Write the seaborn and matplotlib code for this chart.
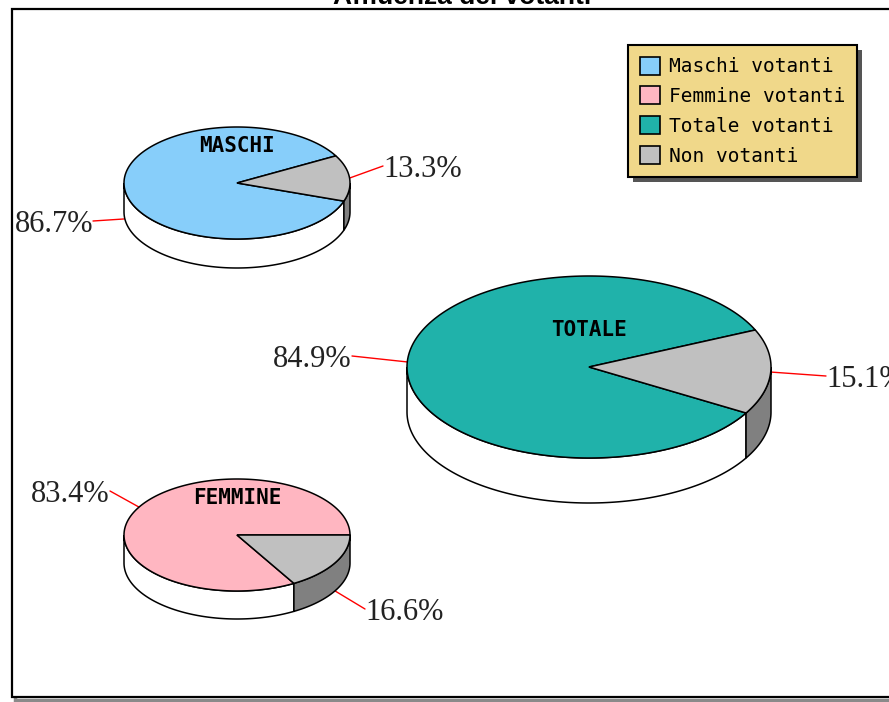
"""
Affluenza dei votanti - three 3D-style pie charts (maschi, femmine, totale)
"""

# === Import Libraries ===
import numpy as np
import matplotlib.pyplot as plt
import seaborn as sns
from matplotlib.patches import Polygon, Rectangle, Patch

# === Data ===
title = "Affluenza dei votanti"
groups = ["MASCHI", "FEMMINE", "TOTALE"]
votanti = [86.7, 83.4, 84.9]
non_votanti = [13.3, 16.6, 15.1]
legend_labels = ["Maschi votanti", "Femmine votanti", "Totale votanti", "Non votanti"]

# === Style ===
sns.set_theme(style="white")
plt.rcParams['font.family'] = ['DejaVu Sans']
plt.rcParams['text.color'] = 'black'

group_colors = ["#87CEFA", "#FFB6C1", "#20B2AA"]
grey_top = "#C0C0C0"
grey_side = "#808080"
legend_bg = "#F0D88A"

# layout of each pie in pixel coordinates (x right, y down)
# cx, cy, rx, ry, depth, start angle,
# label anchors: (text x, baseline y, ha, drop of leader start)
layout = {
    "MASCHI": dict(cx=237, cy=183, rx=113, ry=56, depth=29, start=29,
                   labels=[(93, 232, "right", 31), (383, 177, "left", 0)]),
    "FEMMINE": dict(cx=237, cy=535, rx=113, ry=56, depth=28, start=0,
                    labels=[(110, 502, "right", 0), (365, 620, "left", 28)]),
    "TOTALE": dict(cx=589, cy=367, rx=182, ry=91, depth=45, start=24,
                   labels=[(352, 367, "right", 0), (826, 387, "left", 0)]),
}


def ellipse_pts(cx, cy, rx, ry, t):
    rad = np.radians(t)
    return cx + rx * np.cos(rad), cy - ry * np.sin(rad)


def draw_pie3d(ax, values, tops, sides, lay):
    cx, cy, rx, ry, d = lay["cx"], lay["cy"], lay["rx"], lay["ry"], lay["depth"]
    angles = np.cumsum([0] + [v / sum(values) * 360 for v in values]) + lay["start"]

    # sides first (only the front half, sin(t) < 0, is visible)
    for a0, a1, col in zip(angles[:-1], angles[1:], sides):
        for k in range(-1, 2):
            lo = max(a0, 180 + 360 * k)
            hi = min(a1, 360 + 360 * k)
            if hi <= lo:
                continue
            t = np.linspace(lo, hi, 120)
            x, y = ellipse_pts(cx, cy, rx, ry, t)
            pts = np.concatenate([np.column_stack([x, y]),
                                  np.column_stack([x[::-1], y[::-1] + d])])
            ax.add_patch(Polygon(pts, closed=True, facecolor=col,
                                 edgecolor="black", lw=1.1, zorder=2))

    # top faces
    for a0, a1, col in zip(angles[:-1], angles[1:], tops):
        t = np.linspace(a0, a1, 240)
        x, y = ellipse_pts(cx, cy, rx, ry, t)
        pts = np.concatenate([[[cx, cy]], np.column_stack([x, y])])
        ax.add_patch(Polygon(pts, closed=True, facecolor=col,
                             edgecolor="black", lw=1.1, zorder=3))
    return angles


# === Figure ===
fig = plt.figure(figsize=(8.89, 7.02), dpi=100)
ax = fig.add_axes([0, 0, 1, 1])
ax.set_xlim(0, 889)
ax.set_ylim(702, 0)
ax.axis("off")

# frame with shadow
ax.add_patch(Rectangle((15, 12), 890, 688, facecolor="none",
                       edgecolor="#8a8a8a", lw=2.5, zorder=0))
ax.add_patch(Rectangle((12, 9), 890, 688, facecolor="white",
                       edgecolor="black", lw=1.6, zorder=0.5))

# title (cut off at the top like in the original)
ax.text(462, 4, title, ha="center", va="baseline", fontsize=19,
        fontweight="bold", family="Liberation Sans", color="black", zorder=5)

for i, name in enumerate(groups):
    lay = layout[name]
    values = [votanti[i], non_votanti[i]]
    angles = draw_pie3d(ax, values, [group_colors[i], grey_top],
                        ["white", grey_side], lay)

    # group name on the pie
    ax.text(lay["cx"], lay["cy"] - 37, name, ha="center", va="center",
            fontsize=15, fontweight="bold", family="DejaVu Sans Mono",
            color="black", zorder=4)

    # percentage labels with red leader lines
    for j, v in enumerate(values):
        mid = (angles[j] + angles[j + 1]) / 2
        sx, sy = ellipse_pts(lay["cx"], lay["cy"], lay["rx"], lay["ry"], mid)
        tx, ty, ha, drop = lay["labels"][j]
        ax.plot([sx, tx], [sy + drop, ty - 11], color="red", lw=1.0, zorder=1)
        ax.text(tx, ty, f"{v:.1f}%", ha=ha, va="baseline", fontsize=22,
                family="Liberation Serif", color="#222222", zorder=5)

# === Legend ===
handles = [Patch(facecolor=c, edgecolor="black", lw=1.2)
           for c in group_colors + [grey_top]]
leg = ax.legend(handles, legend_labels, loc="upper left",
                bbox_to_anchor=(628 / 889, 1 - 45 / 702),
                bbox_transform=fig.transFigure, borderaxespad=0,
                prop={"family": "DejaVu Sans Mono", "size": 14},
                frameon=True, fancybox=False, shadow=False,
                handlelength=1.05, handleheight=1.05, handletextpad=0.45,
                labelspacing=0.52, borderpad=0.6)
for txt in leg.get_texts():
    txt.set_color("black")
leg.get_frame().set_facecolor(legend_bg)
leg.get_frame().set_edgecolor("black")
leg.get_frame().set_linewidth(1.5)
leg.get_frame().set_alpha(1)
leg.set_zorder(10)

# legend shadow drawn behind the box
fig.canvas.draw()
bb = leg.get_window_extent().transformed(ax.transData.inverted())
x0, x1 = sorted([bb.x0, bb.x1])
y0, y1 = sorted([bb.y0, bb.y1])
ax.add_patch(Rectangle((x0 + 5, y0 + 5), x1 - x0, y1 - y0,
                       facecolor="#555555", edgecolor="none", zorder=9))

fig.savefig("out.png", dpi=100)
